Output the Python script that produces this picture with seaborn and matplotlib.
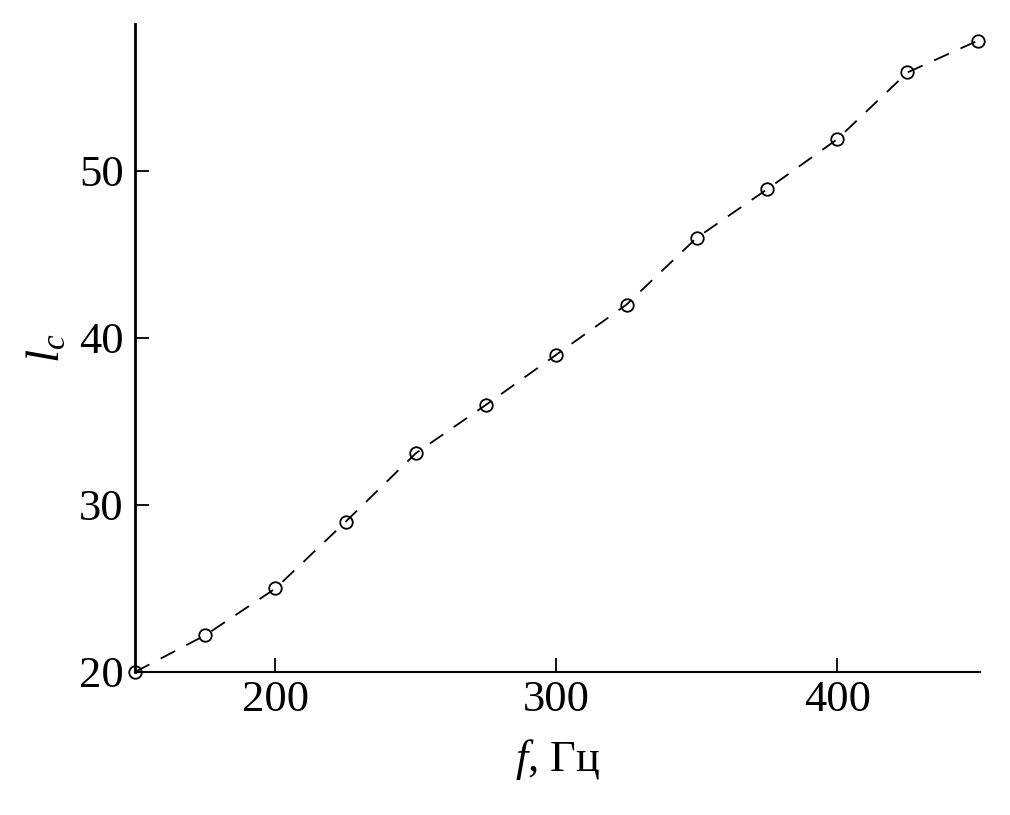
import matplotlib
matplotlib.use("Agg")
import matplotlib.pyplot as plt
import seaborn as sns
import pandas as pd

freq = [150, 175, 200, 225, 250, 275, 300, 325, 350, 375, 400, 425, 450]
lc = [20, 22.2, 25, 29, 33.1, 36, 39, 42, 46, 48.9, 51.9, 55.9, 57.8]
xticks = [200, 300, 400]
yticks = [20, 30, 40, 50]

sns.set_theme(style="white")
plt.rcParams['font.family'] = ['Liberation Serif', 'DejaVu Serif']
plt.rcParams['mathtext.fontset'] = 'custom'
plt.rcParams['mathtext.rm'] = 'Liberation Serif'
plt.rcParams['mathtext.it'] = 'Liberation Serif:italic'

df = pd.DataFrame({"f": freq, "lc": lc})

fig = plt.figure(figsize=(10.1, 8.15), dpi=100)
ax = fig.add_axes([0.1337, 0.1755, 0.837, 0.795])

sns.lineplot(data=df, x="f", y="lc", ax=ax, color="black", linewidth=1.3,
             linestyle=(0, (9, 7)), marker="o", markersize=9,
             markerfacecolor="none", markeredgecolor="black",
             markeredgewidth=1.3, clip_on=False)

ax.set_xlim(150, 451)
ax.set_ylim(20, 58.8)
ax.set_xticks(xticks)
ax.set_yticks(yticks)
ax.tick_params(bottom=True, left=True, direction="in", length=10, width=1.3,
               labelsize=32, pad=6, colors="black")
ax.tick_params(axis="y", pad=8)
for s in ["top", "right"]:
    ax.spines[s].set_visible(False)
ax.spines["left"].set_linewidth(2)
ax.spines["bottom"].set_linewidth(1.5)
ax.spines["left"].set_color("black")
ax.spines["bottom"].set_color("black")

ax.set_xlabel(r"$f$, Гц", fontsize=32, color="black", labelpad=12)
ax.set_ylabel(r"$l_c$", fontsize=34, color="black", labelpad=7)

fig.savefig("out.png", dpi=100, facecolor="white")
